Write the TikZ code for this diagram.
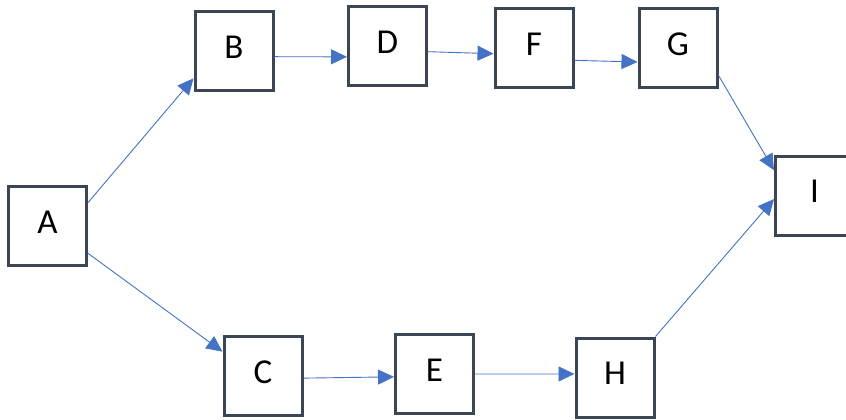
\documentclass[tikz,border=0pt]{standalone}
\usepackage{fontspec}
\setmainfont{Carlito}
\usetikzlibrary{arrows.meta,positioning}
\definecolor{boxline}{HTML}{3B4554}
\definecolor{arrowblue}{HTML}{4472C4}
\tikzset{x=1pt, y=-1pt, % one unit is one pixel of the layout, y runs down
link/.style={draw=arrowblue, line width=0.9pt, -{Triangle[length=16pt,width=15pt]}}, % the blue connectors
task/.style={draw=boxline, line width=3pt, fill=white, minimum width=78pt, minimum height=79pt, inner sep=0pt, text depth=8pt, font=\fontsize{35}{40}\selectfont}, % sets the look of each box
}
\begin{document}
\begin{tikzpicture}
\useasboundingbox (0,0) rectangle (846,420);
\node[task] (A) at (47.5,226) {A};
\node[task] (B) at (234,51) {B};
\node[task] (D) at (387.5,46) {D};
\node[task] (F) at (534,48) {F};
\node[task] (G) at (678,48) {G};
\node[task] (I) at (814.5,195.5) {I};

\node[task] (C) at (263,376) {C};
\node[task] (E) at (434.5,374) {E};
\node[task] (H) at (615,377.5) {H};
\draw
(A.30) edge[link] (B.214)
(B.-8) edge[link] (D.195)
(D.-8) edge[link] (F.188)
(F.-17) edge[link] (G.199)
(G.-34) edge[link] (I.148)
(A.-34) edge[link] (C.149)
(C.-3) edge[link] (E.184)
(E.east) edge[link] (H.175)
(H.north east) edge[link] (I.185);

\end{tikzpicture}
\end{document}
